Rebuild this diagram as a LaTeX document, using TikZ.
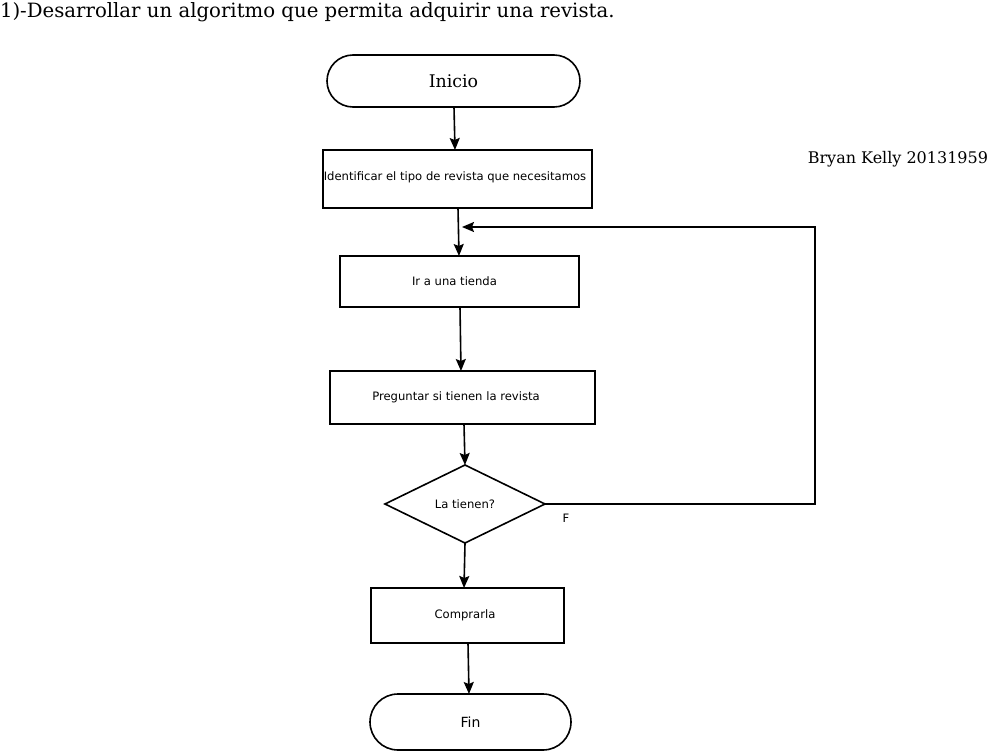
\documentclass[tikz,border=0pt]{standalone}
\usepackage{fontspec}
\setmainfont{DejaVu Serif}
\newfontfamily\boxfont{DejaVu Sans}
\usetikzlibrary{shapes.geometric,shapes.misc,arrows.meta}
\begin{document}
\begin{tikzpicture}[x=1pt,y=-1pt,
  every node/.style={inner sep=0pt,outer sep=0pt},
  ln/.style={line width=1.6pt},
  arr/.style={ln,-{Stealth[length=12pt,width=10pt,inset=2pt]}},
  term/.style={draw,ln,rounded rectangle,rounded rectangle arc length=180,align=center},
  boxtxt/.style={font=\boxfont\fontsize{11.6}{14}\selectfont},
  procbox/.style={draw,ln,rectangle,boxtxt},
  decis/.style={draw,ln,diamond,aspect=2.05,boxtxt}]
\useasboundingbox (0,0) rectangle (989,752);
\node[anchor=base west,font=\fontsize{19.7}{23}\selectfont] (title) at (0,18) {1)-Desarrollar un algoritmo que permita adquirir una revista.};
\node[anchor=base east,font=\fontsize{16}{19}\selectfont] (author) at (988,163) {Bryan Kelly 20131959};
\node[term,minimum width=253pt,minimum height=52pt,font=\fontsize{17.4}{20}\selectfont] (inicio) at (453.5,81) {Inicio};
\node[procbox,minimum width=269pt,minimum height=58pt] (b1) at (457.5,179) {\hspace*{-5pt}\raisebox{6pt}{Identificar el tipo de revista que necesitamos}};
\node[procbox,minimum width=239pt,minimum height=51pt] (b2) at (459.5,281.5) {\hspace*{-10pt}\raisebox{-2pt}{Ir a una tienda}};
\node[procbox,minimum width=265pt,minimum height=53pt] (b3) at (462.5,397.5) {\hspace*{-13pt}Preguntar si tienen la revista};
\node[decis,minimum width=160pt,minimum height=78pt] (d1) at (465,504) {La tienen?};
\node[anchor=center,boxtxt] (flab) at (566,518) {F};
\node[procbox,minimum width=193pt,minimum height=55pt] (b4) at (467.5,615.5) {\hspace*{-5pt}\raisebox{-2pt}{Comprarla}};
\node[term,minimum width=201pt,minimum height=56pt,font=\boxfont\fontsize{14}{17}\selectfont] (fin) at (470.5,722) {Fin};
\coordinate (c1) at (815,504);
\coordinate (c2) at (815,227);
\coordinate (c3) at (462,227);
\draw[arr] ([xshift=0.5pt]inicio.south) -- ([xshift=-2.5pt]b1.north);
\draw[arr] ([xshift=0.5pt]b1.south) -- ([xshift=-0.5pt]b2.north);
\draw[arr] ([xshift=0.5pt]b2.south) -- ([xshift=-1.5pt]b3.north);
\draw[arr] ([xshift=1.5pt]b3.south) -- (d1.north);
\draw[arr] (d1.south) -- ([xshift=-3.5pt]b4.north);
\draw[arr] ([xshift=0.5pt]b4.south) -- ([xshift=-1.5pt]fin.north);
\draw[arr] (d1.east) -- (c1) -- (c2) -- (c3);
\end{tikzpicture}
\end{document}
